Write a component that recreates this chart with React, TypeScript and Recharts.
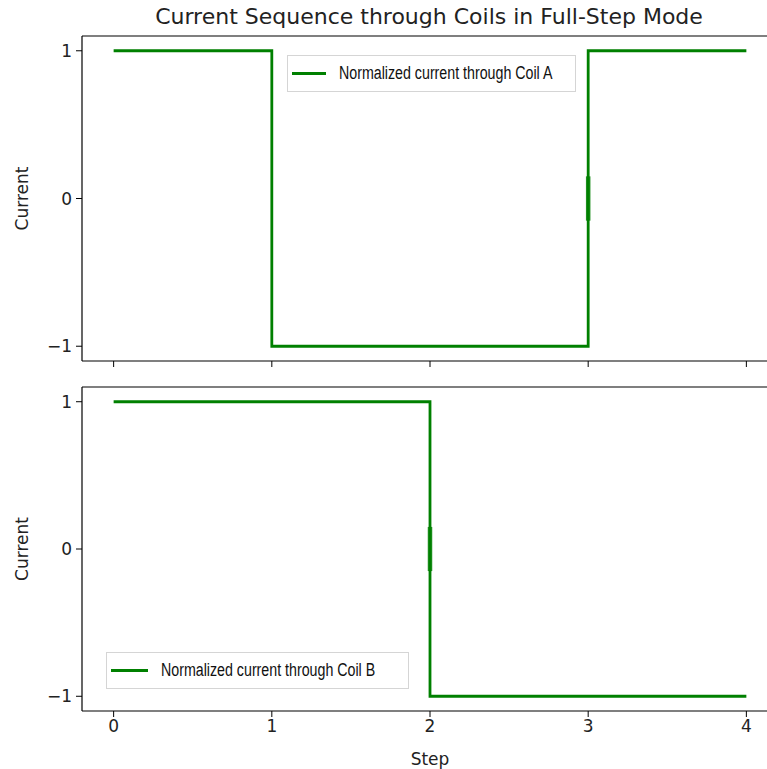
import React from 'react';
import { LineChart, Line, XAxis, YAxis, ReferenceLine } from 'recharts';

const steps = [0, 1, 2, 3, 4];
const coilA = [1, -1, -1, 1, 1];
const coilB = [1, 1, -1, -1, -1];
const yTicks = [-1, 0, 1];
const xTicks = [0, 1, 2, 3, 4];
const title = 'Current Sequence through Coils in Full-Step Mode';
const legendA = 'Normalized current through Coil A';
const legendB = 'Normalized current through Coil B';
const markA = [{ x: 3, y: -0.15 }, { x: 3, y: 0.15 }];
const markB = [{ x: 2, y: -0.15 }, { x: 2, y: 0.15 }];

const dataA = steps.map((s, i) => ({ x: s, y: coilA[i] }));
const dataB = steps.map((s, i) => ({ x: s, y: coilB[i] }));

const GREEN = '#008000';
const FONT = 'DejaVu Sans, sans-serif';
const fmtY = (v: number) => (v < 0 ? '\u2212' + Math.abs(v) : String(v));

const tickStyle = { fill: '#222', fontSize: 17, fontFamily: FONT };

function LegendBox({ left, top, width, label, lineW }: { left: number; top: number; width: number; label: string; lineW: number }) {
  return (
    <div
      style={{
        position: 'absolute',
        left,
        top,
        width,
        height: 37,
        border: '1.5px solid #d5d5d5',
        background: 'rgba(255,255,255,0.8)',
        boxSizing: 'border-box',
        display: 'flex',
        alignItems: 'center',
        whiteSpace: 'nowrap',
      }}
    >
      <div style={{ width: lineW, height: 3, background: GREEN, marginLeft: 4, marginRight: 13, flex: 'none' }} />
      <span
        style={{
          fontFamily: 'Liberation Sans, Arial, sans-serif',
          fontSize: 18,
          color: '#111',
          display: 'inline-block',
          transform: 'scaleX(0.79)',
          transformOrigin: 'left center',
        }}
      >
        {label}
      </span>
    </div>
  );
}

function Panel({ data, mark, showXLabels, height, xHeight }: any) {
  return (
    <LineChart width={790} height={height} margin={{ top: 36, right: 12, bottom: 0, left: 0 }}>
      <XAxis
        dataKey="x"
        type="number"
        domain={[-0.2, 4.2]}
        ticks={xTicks}
        allowDataOverflow
        tickLine={{ stroke: '#000' }}
        axisLine={{ stroke: '#000', strokeWidth: 1.2 }}
        tickSize={6}
        tickMargin={3}
        tick={tickStyle}
        tickFormatter={showXLabels ? (v: number) => String(v) : () => ''}
        height={xHeight}
        label={
          showXLabels
            ? { value: 'Step', position: 'insideBottom', offset: 6, style: { fill: '#222', fontSize: 17, fontFamily: FONT } }
            : undefined
        }
      />
      <YAxis
        dataKey="y"
        type="number"
        domain={[-1.1, 1.1]}
        ticks={yTicks}
        width={82}
        tickFormatter={fmtY}
        tickSize={6}
        tickMargin={4}
        tickLine={{ stroke: '#000' }}
        axisLine={{ stroke: '#000', strokeWidth: 1.2 }}
        tick={tickStyle}
        label={{
          value: 'Current',
          angle: -90,
          position: 'insideLeft',
          offset: 22,
          style: { fill: '#222', fontSize: 17, fontFamily: FONT, textAnchor: 'middle' },
        }}
      />
      <ReferenceLine y={1.1} stroke="#000" strokeWidth={1.2} />
      <Line data={data} dataKey="y" type="stepAfter" stroke={GREEN} strokeWidth={2.8} dot={false} isAnimationActive={false} />
      <Line data={mark} dataKey="y" type="linear" stroke={GREEN} strokeWidth={4.5} strokeOpacity={0.85} dot={false} isAnimationActive={false} />
    </LineChart>
  );
}

export default function App() {
  return (
    <div style={{ position: 'absolute', left: 0, top: 0, width: 767, height: 769, overflow: 'hidden', background: '#fff' }}>
      <div
        style={{
          position: 'absolute',
          left: 0,
          width: 858,
          top: 4,
          textAlign: 'center',
          fontFamily: FONT,
          fontSize: 22,
          lineHeight: '26px',
          color: '#222',
          whiteSpace: 'nowrap',
        }}
      >
        {title}
      </div>
      <div style={{ position: 'absolute', left: 0, top: 0 }}>
        <Panel data={dataA} mark={markA} showXLabels={false} height={370} xHeight={9} />
      </div>
      <div style={{ position: 'absolute', left: 0, top: 351 }}>
        <Panel data={dataB} mark={markB} showXLabels={true} height={420} xHeight={60} />
      </div>
      <LegendBox left={287} top={55} width={289} label={legendA} lineW={34} />
      <LegendBox left={106} top={652} width={303} label={legendB} lineW={37} />
    </div>
  );
}
